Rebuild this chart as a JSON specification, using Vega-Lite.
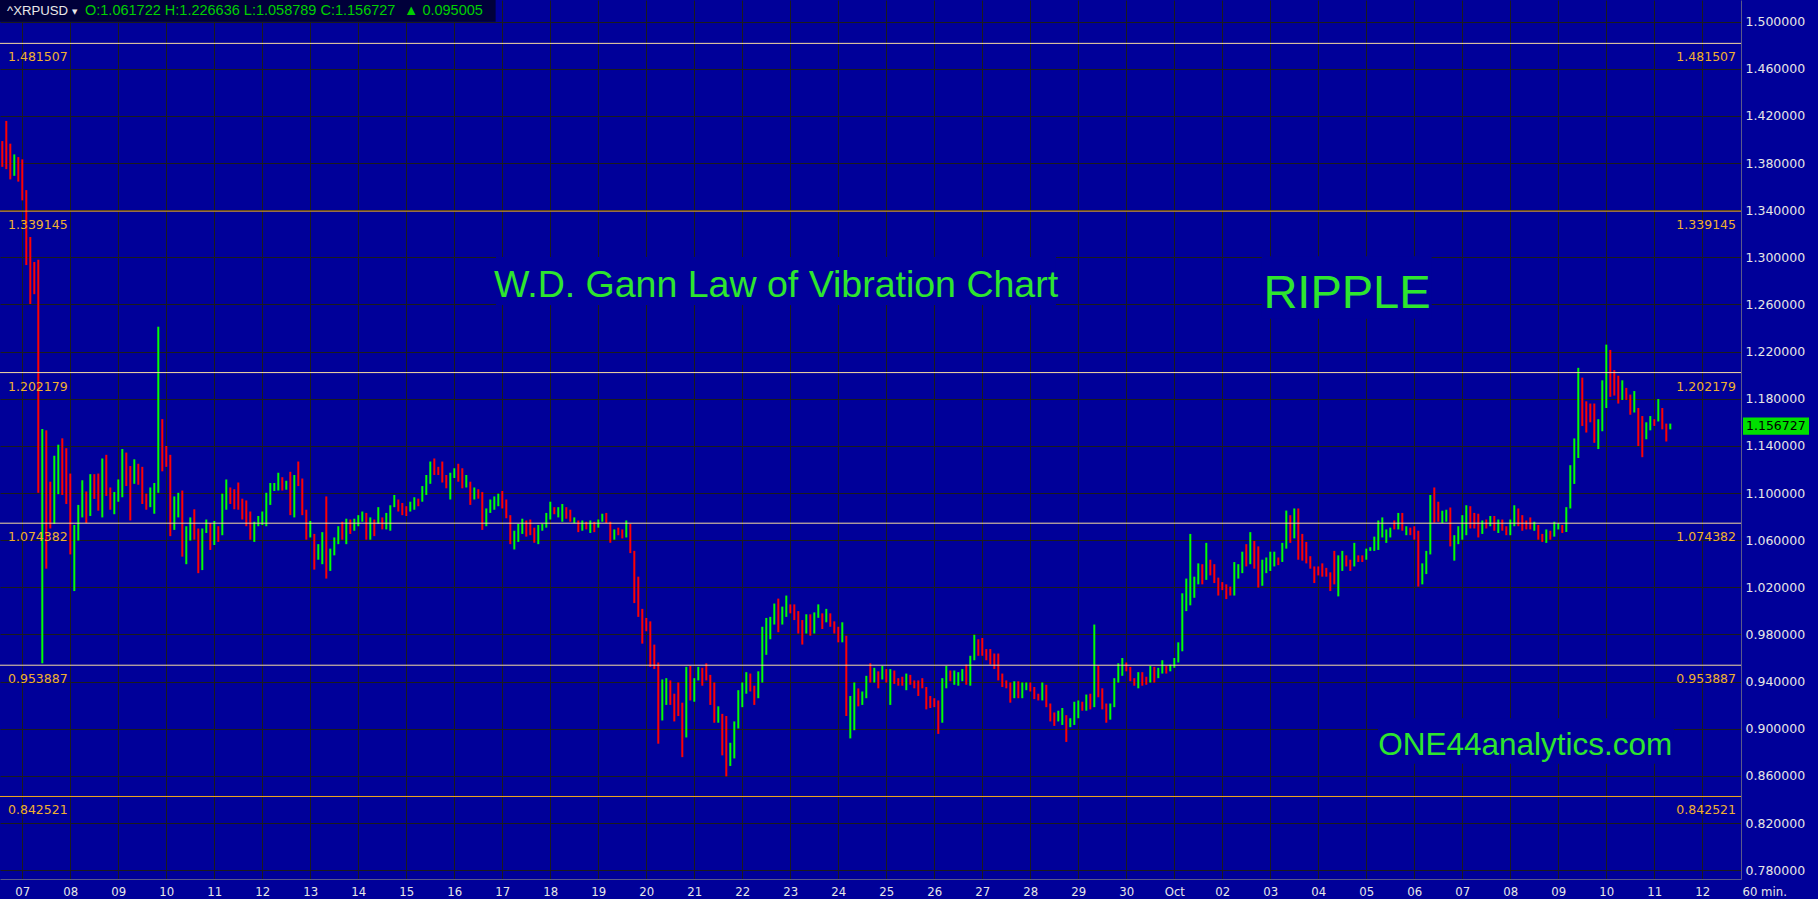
{
"$schema":"https://vega.github.io/schema/vega-lite/v6.json",
"width":1741,"height":879,
"autosize":{"type":"none"},
"padding":{"left":0,"top":0,"right":77,"bottom":20},
"background":"#000099",
"config":{"view":{"stroke":null,"fill":"#000099"}},
"datasets":{
"levels":[{"v":1.481507},{"v":1.339145},{"v":1.202179},{"v":1.074382},{"v":0.953887},{"v":0.842521}],
"bars":[
{"t":"2021-09-06T14:00Z","o":1.397,"h":1.3986,"l":1.3767,"c":1.393},
{"t":"2021-09-06T16:00Z","o":1.389,"h":1.4157,"l":1.3748,"c":1.377},
{"t":"2021-09-06T18:00Z","o":1.395,"h":1.3964,"l":1.3661,"c":1.368},
{"t":"2021-09-06T20:00Z","o":1.369,"h":1.3873,"l":1.3691,"c":1.386},
{"t":"2021-09-06T22:00Z","o":1.384,"h":1.385,"l":1.3642,"c":1.382},
{"t":"2021-09-07T00:00Z","o":1.368,"h":1.3831,"l":1.3483,"c":1.352},
{"t":"2021-09-07T02:00Z","o":1.352,"h":1.357,"l":1.2934,"c":1.300},
{"t":"2021-09-07T04:00Z","o":1.315,"h":1.3172,"l":1.2604,"c":1.294},
{"t":"2021-09-07T06:00Z","o":1.295,"h":1.296,"l":1.2687,"c":1.292},
{"t":"2021-09-07T08:00Z","o":1.290,"h":1.2979,"l":1.1002,"c":1.105},
{"t":"2021-09-07T10:00Z","o":1.100,"h":1.1543,"l":0.9555,"c":1.152},
{"t":"2021-09-07T12:00Z","o":1.150,"h":1.1532,"l":1.0358,"c":1.100},
{"t":"2021-09-07T14:00Z","o":1.107,"h":1.1096,"l":1.0699,"c":1.103},
{"t":"2021-09-07T16:00Z","o":1.080,"h":1.1316,"l":1.0737,"c":1.125},
{"t":"2021-09-07T18:00Z","o":1.110,"h":1.141,"l":1.099,"c":1.138},
{"t":"2021-09-07T20:00Z","o":1.130,"h":1.1464,"l":1.0983,"c":1.100},
{"t":"2021-09-07T22:00Z","o":1.135,"h":1.138,"l":1.0907,"c":1.120},
{"t":"2021-09-08T00:00Z","o":1.115,"h":1.1165,"l":1.0479,"c":1.060},
{"t":"2021-09-08T02:00Z","o":1.060,"h":1.0729,"l":1.0168,"c":1.068},
{"t":"2021-09-08T04:00Z","o":1.063,"h":1.0899,"l":1.0597,"c":1.072},
{"t":"2021-09-08T06:00Z","o":1.080,"h":1.1108,"l":1.0793,"c":1.108},
{"t":"2021-09-08T08:00Z","o":1.090,"h":1.1013,"l":1.0744,"c":1.078},
{"t":"2021-09-08T10:00Z","o":1.082,"h":1.116,"l":1.0805,"c":1.113},
{"t":"2021-09-08T12:00Z","o":1.114,"h":1.116,"l":1.095,"c":1.108},
{"t":"2021-09-08T14:00Z","o":1.112,"h":1.1165,"l":1.085,"c":1.087},
{"t":"2021-09-08T16:00Z","o":1.090,"h":1.1293,"l":1.0793,"c":1.126},
{"t":"2021-09-08T18:00Z","o":1.128,"h":1.1324,"l":1.0975,"c":1.100},
{"t":"2021-09-08T20:00Z","o":1.103,"h":1.1047,"l":1.0858,"c":1.098},
{"t":"2021-09-08T22:00Z","o":1.085,"h":1.1009,"l":1.082,"c":1.100},
{"t":"2021-09-09T00:00Z","o":1.095,"h":1.1115,"l":1.0926,"c":1.110},
{"t":"2021-09-09T02:00Z","o":1.100,"h":1.1373,"l":1.0964,"c":1.135},
{"t":"2021-09-09T04:00Z","o":1.130,"h":1.1343,"l":1.1059,"c":1.108},
{"t":"2021-09-09T06:00Z","o":1.108,"h":1.1229,"l":1.0767,"c":1.080},
{"t":"2021-09-09T08:00Z","o":1.110,"h":1.1286,"l":1.1078,"c":1.125},
{"t":"2021-09-09T10:00Z","o":1.122,"h":1.1248,"l":1.107,"c":1.120},
{"t":"2021-09-09T12:00Z","o":1.120,"h":1.1222,"l":1.0907,"c":1.093},
{"t":"2021-09-09T14:00Z","o":1.098,"h":1.0994,"l":1.0858,"c":1.087},
{"t":"2021-09-09T16:00Z","o":1.090,"h":1.1047,"l":1.088,"c":1.092},
{"t":"2021-09-09T18:00Z","o":1.100,"h":1.1085,"l":1.0824,"c":1.105},
{"t":"2021-09-09T20:00Z","o":1.102,"h":1.2411,"l":1.1002,"c":1.159},
{"t":"2021-09-09T22:00Z","o":1.160,"h":1.1627,"l":1.1184,"c":1.125},
{"t":"2021-09-10T00:00Z","o":1.128,"h":1.1399,"l":1.1222,"c":1.124},
{"t":"2021-09-10T02:00Z","o":1.130,"h":1.1324,"l":1.0634,"c":1.070},
{"t":"2021-09-10T04:00Z","o":1.070,"h":1.0971,"l":1.0687,"c":1.082},
{"t":"2021-09-10T06:00Z","o":1.080,"h":1.1002,"l":1.0793,"c":1.085},
{"t":"2021-09-10T08:00Z","o":1.098,"h":1.1021,"l":1.046,"c":1.050},
{"t":"2021-09-10T10:00Z","o":1.045,"h":1.0718,"l":1.0396,"c":1.062},
{"t":"2021-09-10T12:00Z","o":1.065,"h":1.0793,"l":1.0597,"c":1.077},
{"t":"2021-09-10T14:00Z","o":1.078,"h":1.0862,"l":1.0604,"c":1.063},
{"t":"2021-09-10T16:00Z","o":1.068,"h":1.0699,"l":1.032,"c":1.035},
{"t":"2021-09-10T18:00Z","o":1.038,"h":1.0699,"l":1.0346,"c":1.068},
{"t":"2021-09-10T20:00Z","o":1.067,"h":1.0775,"l":1.0661,"c":1.070},
{"t":"2021-09-10T22:00Z","o":1.073,"h":1.0744,"l":1.0517,"c":1.070},
{"t":"2021-09-11T00:00Z","o":1.058,"h":1.0763,"l":1.0559,"c":1.074},
{"t":"2021-09-11T02:00Z","o":1.071,"h":1.0718,"l":1.0585,"c":1.069},
{"t":"2021-09-11T04:00Z","o":1.066,"h":1.0994,"l":1.0642,"c":1.097},
{"t":"2021-09-11T06:00Z","o":1.090,"h":1.1115,"l":1.0858,"c":1.108},
{"t":"2021-09-11T08:00Z","o":1.103,"h":1.1047,"l":1.0907,"c":1.098},
{"t":"2021-09-11T10:00Z","o":1.100,"h":1.1032,"l":1.0862,"c":1.088},
{"t":"2021-09-11T12:00Z","o":1.105,"h":1.1089,"l":1.0858,"c":1.088},
{"t":"2021-09-11T14:00Z","o":1.094,"h":1.0952,"l":1.0775,"c":1.090},
{"t":"2021-09-11T16:00Z","o":1.090,"h":1.0937,"l":1.0718,"c":1.075},
{"t":"2021-09-11T18:00Z","o":1.075,"h":1.0843,"l":1.0604,"c":1.065},
{"t":"2021-09-11T20:00Z","o":1.062,"h":1.0756,"l":1.0585,"c":1.073},
{"t":"2021-09-11T22:00Z","o":1.073,"h":1.0805,"l":1.0718,"c":1.079},
{"t":"2021-09-12T00:00Z","o":1.076,"h":1.0843,"l":1.0729,"c":1.080},
{"t":"2021-09-12T02:00Z","o":1.075,"h":1.1002,"l":1.0718,"c":1.098},
{"t":"2021-09-12T04:00Z","o":1.095,"h":1.1085,"l":1.0899,"c":1.107},
{"t":"2021-09-12T06:00Z","o":1.103,"h":1.1085,"l":1.1017,"c":1.106},
{"t":"2021-09-12T08:00Z","o":1.103,"h":1.1172,"l":1.1021,"c":1.105},
{"t":"2021-09-12T10:00Z","o":1.108,"h":1.1134,"l":1.1021,"c":1.104},
{"t":"2021-09-12T12:00Z","o":1.104,"h":1.1104,"l":1.1028,"c":1.109},
{"t":"2021-09-12T14:00Z","o":1.108,"h":1.118,"l":1.0812,"c":1.085},
{"t":"2021-09-12T16:00Z","o":1.082,"h":1.1153,"l":1.0793,"c":1.112},
{"t":"2021-09-12T18:00Z","o":1.118,"h":1.1267,"l":1.1059,"c":1.108},
{"t":"2021-09-12T20:00Z","o":1.110,"h":1.1123,"l":1.0812,"c":1.085},
{"t":"2021-09-12T22:00Z","o":1.085,"h":1.0858,"l":1.0604,"c":1.065},
{"t":"2021-09-13T00:00Z","o":1.065,"h":1.0763,"l":1.0623,"c":1.074},
{"t":"2021-09-13T02:00Z","o":1.064,"h":1.0653,"l":1.035,"c":1.040},
{"t":"2021-09-13T04:00Z","o":1.042,"h":1.0566,"l":1.0434,"c":1.055},
{"t":"2021-09-13T06:00Z","o":1.040,"h":1.0668,"l":1.0396,"c":1.060},
{"t":"2021-09-13T08:00Z","o":1.060,"h":1.0971,"l":1.0274,"c":1.035},
{"t":"2021-09-13T10:00Z","o":1.036,"h":1.0528,"l":1.0339,"c":1.050},
{"t":"2021-09-13T12:00Z","o":1.050,"h":1.0623,"l":1.0471,"c":1.060},
{"t":"2021-09-13T14:00Z","o":1.058,"h":1.0718,"l":1.0566,"c":1.070},
{"t":"2021-09-13T16:00Z","o":1.073,"h":1.0756,"l":1.0604,"c":1.062},
{"t":"2021-09-13T18:00Z","o":1.060,"h":1.0782,"l":1.0566,"c":1.075},
{"t":"2021-09-13T20:00Z","o":1.075,"h":1.0775,"l":1.0653,"c":1.068},
{"t":"2021-09-13T22:00Z","o":1.069,"h":1.0782,"l":1.068,"c":1.072},
{"t":"2021-09-14T00:00Z","o":1.073,"h":1.0812,"l":1.0718,"c":1.080},
{"t":"2021-09-14T02:00Z","o":1.078,"h":1.0843,"l":1.0756,"c":1.082},
{"t":"2021-09-14T04:00Z","o":1.082,"h":1.0831,"l":1.0604,"c":1.070},
{"t":"2021-09-14T06:00Z","o":1.065,"h":1.0793,"l":1.0604,"c":1.077},
{"t":"2021-09-14T08:00Z","o":1.076,"h":1.0775,"l":1.0634,"c":1.072},
{"t":"2021-09-14T10:00Z","o":1.074,"h":1.088,"l":1.0737,"c":1.082},
{"t":"2021-09-14T12:00Z","o":1.078,"h":1.0793,"l":1.0691,"c":1.071},
{"t":"2021-09-14T14:00Z","o":1.070,"h":1.0831,"l":1.0691,"c":1.082},
{"t":"2021-09-14T16:00Z","o":1.080,"h":1.0896,"l":1.068,"c":1.087},
{"t":"2021-09-14T18:00Z","o":1.088,"h":1.0983,"l":1.088,"c":1.094},
{"t":"2021-09-14T20:00Z","o":1.093,"h":1.0945,"l":1.0843,"c":1.090},
{"t":"2021-09-14T22:00Z","o":1.090,"h":1.0915,"l":1.0812,"c":1.083},
{"t":"2021-09-15T00:00Z","o":1.087,"h":1.0888,"l":1.0805,"c":1.086},
{"t":"2021-09-15T02:00Z","o":1.086,"h":1.0926,"l":1.0843,"c":1.089},
{"t":"2021-09-15T04:00Z","o":1.088,"h":1.0964,"l":1.0858,"c":1.095},
{"t":"2021-09-15T06:00Z","o":1.094,"h":1.0952,"l":1.0888,"c":1.090},
{"t":"2021-09-15T08:00Z","o":1.093,"h":1.1059,"l":1.0926,"c":1.104},
{"t":"2021-09-15T10:00Z","o":1.102,"h":1.1153,"l":1.0983,"c":1.110},
{"t":"2021-09-15T12:00Z","o":1.110,"h":1.1267,"l":1.1078,"c":1.124},
{"t":"2021-09-15T14:00Z","o":1.122,"h":1.1293,"l":1.1153,"c":1.118},
{"t":"2021-09-15T16:00Z","o":1.119,"h":1.1222,"l":1.1153,"c":1.117},
{"t":"2021-09-15T18:00Z","o":1.118,"h":1.1267,"l":1.1089,"c":1.110},
{"t":"2021-09-15T20:00Z","o":1.110,"h":1.1153,"l":1.104,"c":1.106},
{"t":"2021-09-15T22:00Z","o":1.105,"h":1.1172,"l":1.0945,"c":1.112},
{"t":"2021-09-16T00:00Z","o":1.113,"h":1.121,"l":1.1127,"c":1.119},
{"t":"2021-09-16T02:00Z","o":1.120,"h":1.1248,"l":1.1096,"c":1.112},
{"t":"2021-09-16T04:00Z","o":1.118,"h":1.121,"l":1.104,"c":1.106},
{"t":"2021-09-16T06:00Z","o":1.106,"h":1.1153,"l":1.1047,"c":1.113},
{"t":"2021-09-16T08:00Z","o":1.108,"h":1.1096,"l":1.0899,"c":1.093},
{"t":"2021-09-16T10:00Z","o":1.095,"h":1.1047,"l":1.0945,"c":1.102},
{"t":"2021-09-16T12:00Z","o":1.100,"h":1.1032,"l":1.0952,"c":1.098},
{"t":"2021-09-16T14:00Z","o":1.099,"h":1.1009,"l":1.0687,"c":1.075},
{"t":"2021-09-16T16:00Z","o":1.075,"h":1.0869,"l":1.0718,"c":1.085},
{"t":"2021-09-16T18:00Z","o":1.085,"h":1.0945,"l":1.0831,"c":1.092},
{"t":"2021-09-16T20:00Z","o":1.089,"h":1.0971,"l":1.0858,"c":1.092},
{"t":"2021-09-16T22:00Z","o":1.091,"h":1.0994,"l":1.0888,"c":1.097},
{"t":"2021-09-17T00:00Z","o":1.098,"h":1.1017,"l":1.0869,"c":1.089},
{"t":"2021-09-17T02:00Z","o":1.092,"h":1.0945,"l":1.0786,"c":1.080},
{"t":"2021-09-17T04:00Z","o":1.080,"h":1.0812,"l":1.0566,"c":1.060},
{"t":"2021-09-17T06:00Z","o":1.062,"h":1.068,"l":1.0521,"c":1.066},
{"t":"2021-09-17T08:00Z","o":1.065,"h":1.0737,"l":1.0585,"c":1.071},
{"t":"2021-09-17T10:00Z","o":1.070,"h":1.0782,"l":1.0653,"c":1.076},
{"t":"2021-09-17T12:00Z","o":1.075,"h":1.0767,"l":1.063,"c":1.072},
{"t":"2021-09-17T14:00Z","o":1.074,"h":1.0775,"l":1.0642,"c":1.066},
{"t":"2021-09-17T16:00Z","o":1.067,"h":1.0706,"l":1.0578,"c":1.060},
{"t":"2021-09-17T18:00Z","o":1.060,"h":1.0729,"l":1.0566,"c":1.070},
{"t":"2021-09-17T20:00Z","o":1.069,"h":1.0737,"l":1.068,"c":1.072},
{"t":"2021-09-17T22:00Z","o":1.072,"h":1.0831,"l":1.0706,"c":1.081},
{"t":"2021-09-18T00:00Z","o":1.080,"h":1.0926,"l":1.0775,"c":1.086},
{"t":"2021-09-18T02:00Z","o":1.087,"h":1.088,"l":1.082,"c":1.086},
{"t":"2021-09-18T04:00Z","o":1.083,"h":1.088,"l":1.0793,"c":1.086},
{"t":"2021-09-18T06:00Z","o":1.080,"h":1.0907,"l":1.0756,"c":1.088},
{"t":"2021-09-18T08:00Z","o":1.087,"h":1.088,"l":1.0782,"c":1.084},
{"t":"2021-09-18T10:00Z","o":1.085,"h":1.0858,"l":1.0756,"c":1.077},
{"t":"2021-09-18T12:00Z","o":1.075,"h":1.0793,"l":1.0744,"c":1.078},
{"t":"2021-09-18T14:00Z","o":1.076,"h":1.0767,"l":1.0668,"c":1.069},
{"t":"2021-09-18T16:00Z","o":1.069,"h":1.0767,"l":1.068,"c":1.076},
{"t":"2021-09-18T18:00Z","o":1.074,"h":1.0756,"l":1.0691,"c":1.073},
{"t":"2021-09-18T20:00Z","o":1.070,"h":1.0767,"l":1.0661,"c":1.073},
{"t":"2021-09-18T22:00Z","o":1.074,"h":1.0756,"l":1.0668,"c":1.070},
{"t":"2021-09-19T00:00Z","o":1.071,"h":1.0775,"l":1.0706,"c":1.076},
{"t":"2021-09-19T02:00Z","o":1.077,"h":1.0824,"l":1.0756,"c":1.080},
{"t":"2021-09-19T04:00Z","o":1.081,"h":1.0831,"l":1.0744,"c":1.077},
{"t":"2021-09-19T06:00Z","o":1.075,"h":1.0756,"l":1.0578,"c":1.063},
{"t":"2021-09-19T08:00Z","o":1.062,"h":1.0691,"l":1.0604,"c":1.067},
{"t":"2021-09-19T10:00Z","o":1.068,"h":1.0706,"l":1.0642,"c":1.066},
{"t":"2021-09-19T12:00Z","o":1.066,"h":1.0691,"l":1.0615,"c":1.065},
{"t":"2021-09-19T14:00Z","o":1.066,"h":1.0767,"l":1.0623,"c":1.074},
{"t":"2021-09-19T16:00Z","o":1.072,"h":1.0737,"l":1.049,"c":1.052},
{"t":"2021-09-19T18:00Z","o":1.050,"h":1.0509,"l":1.0066,"c":1.010},
{"t":"2021-09-19T20:00Z","o":1.010,"h":1.029,"l":0.9949,"c":0.996},
{"t":"2021-09-19T22:00Z","o":0.998,"h":1.0017,"l":0.9722,"c":0.992},
{"t":"2021-09-20T00:00Z","o":0.992,"h":0.994,"l":0.9827,"c":0.988},
{"t":"2021-09-20T02:00Z","o":0.990,"h":0.9911,"l":0.9525,"c":0.972},
{"t":"2021-09-20T04:00Z","o":0.971,"h":0.9714,"l":0.9506,"c":0.955},
{"t":"2021-09-20T06:00Z","o":0.955,"h":0.9562,"l":0.8873,"c":0.905},
{"t":"2021-09-20T08:00Z","o":0.910,"h":0.9418,"l":0.907,"c":0.927},
{"t":"2021-09-20T10:00Z","o":0.924,"h":0.9429,"l":0.9202,"c":0.940},
{"t":"2021-09-20T12:00Z","o":0.938,"h":0.941,"l":0.9202,"c":0.925},
{"t":"2021-09-20T14:00Z","o":0.926,"h":0.9297,"l":0.9062,"c":0.915},
{"t":"2021-09-20T16:00Z","o":0.920,"h":0.9392,"l":0.9108,"c":0.915},
{"t":"2021-09-20T18:00Z","o":0.921,"h":0.9221,"l":0.8759,"c":0.890},
{"t":"2021-09-20T20:00Z","o":0.897,"h":0.9525,"l":0.8926,"c":0.948},
{"t":"2021-09-20T22:00Z","o":0.945,"h":0.9532,"l":0.924,"c":0.928},
{"t":"2021-09-21T00:00Z","o":0.930,"h":0.9429,"l":0.9229,"c":0.940},
{"t":"2021-09-21T02:00Z","o":0.942,"h":0.9525,"l":0.941,"c":0.948},
{"t":"2021-09-21T04:00Z","o":0.950,"h":0.9517,"l":0.9365,"c":0.945},
{"t":"2021-09-21T06:00Z","o":0.952,"h":0.9555,"l":0.941,"c":0.943},
{"t":"2021-09-21T08:00Z","o":0.944,"h":0.9457,"l":0.9202,"c":0.922},
{"t":"2021-09-21T10:00Z","o":0.935,"h":0.9392,"l":0.9051,"c":0.908},
{"t":"2021-09-21T12:00Z","o":0.907,"h":0.919,"l":0.9051,"c":0.918},
{"t":"2021-09-21T14:00Z","o":0.912,"h":0.9126,"l":0.8774,"c":0.882},
{"t":"2021-09-21T16:00Z","o":0.882,"h":0.9108,"l":0.8596,"c":0.870},
{"t":"2021-09-21T18:00Z","o":0.870,"h":0.8881,"l":0.8684,"c":0.886},
{"t":"2021-09-21T20:00Z","o":0.877,"h":0.9062,"l":0.8748,"c":0.905},
{"t":"2021-09-21T22:00Z","o":0.903,"h":0.9327,"l":0.9002,"c":0.918},
{"t":"2021-09-22T00:00Z","o":0.920,"h":0.9392,"l":0.9183,"c":0.937},
{"t":"2021-09-22T02:00Z","o":0.932,"h":0.948,"l":0.9297,"c":0.937},
{"t":"2021-09-22T04:00Z","o":0.940,"h":0.9468,"l":0.9316,"c":0.934},
{"t":"2021-09-22T06:00Z","o":0.935,"h":0.9365,"l":0.9202,"c":0.930},
{"t":"2021-09-22T08:00Z","o":0.928,"h":0.9487,"l":0.9259,"c":0.947},
{"t":"2021-09-22T10:00Z","o":0.942,"h":0.9865,"l":0.9392,"c":0.983},
{"t":"2021-09-22T12:00Z","o":0.982,"h":0.994,"l":0.9627,"c":0.990},
{"t":"2021-09-22T14:00Z","o":0.978,"h":0.9949,"l":0.9759,"c":0.992},
{"t":"2021-09-22T16:00Z","o":0.990,"h":1.0062,"l":0.9884,"c":1.004},
{"t":"2021-09-22T18:00Z","o":1.004,"h":1.0104,"l":0.9819,"c":0.988},
{"t":"2021-09-22T20:00Z","o":0.990,"h":1.0036,"l":0.9884,"c":1.000},
{"t":"2021-09-22T22:00Z","o":0.998,"h":1.013,"l":0.9949,"c":1.000},
{"t":"2021-09-23T00:00Z","o":1.003,"h":1.0055,"l":0.9979,"c":1.000},
{"t":"2021-09-23T02:00Z","o":1.004,"h":1.0055,"l":0.9922,"c":0.994},
{"t":"2021-09-23T04:00Z","o":0.994,"h":0.9998,"l":0.9808,"c":0.983},
{"t":"2021-09-23T06:00Z","o":0.985,"h":0.9922,"l":0.9714,"c":0.982},
{"t":"2021-09-23T08:00Z","o":0.982,"h":0.9971,"l":0.9808,"c":0.995},
{"t":"2021-09-23T10:00Z","o":0.995,"h":0.9971,"l":0.9789,"c":0.982},
{"t":"2021-09-23T12:00Z","o":0.982,"h":0.9987,"l":0.9808,"c":0.993},
{"t":"2021-09-23T14:00Z","o":0.994,"h":1.0055,"l":0.9941,"c":0.997},
{"t":"2021-09-23T16:00Z","o":0.996,"h":0.9979,"l":0.9846,"c":0.993},
{"t":"2021-09-23T18:00Z","o":0.992,"h":1.0017,"l":0.9903,"c":0.998},
{"t":"2021-09-23T20:00Z","o":0.996,"h":0.9979,"l":0.9865,"c":0.988},
{"t":"2021-09-23T22:00Z","o":0.990,"h":0.9911,"l":0.9808,"c":0.982},
{"t":"2021-09-24T00:00Z","o":0.985,"h":0.9865,"l":0.9733,"c":0.975},
{"t":"2021-09-24T02:00Z","o":0.975,"h":0.9903,"l":0.9733,"c":0.987},
{"t":"2021-09-24T04:00Z","o":0.976,"h":0.9789,"l":0.9108,"c":0.915},
{"t":"2021-09-24T06:00Z","o":0.895,"h":0.9278,"l":0.8918,"c":0.908},
{"t":"2021-09-24T08:00Z","o":0.905,"h":0.9392,"l":0.8987,"c":0.936},
{"t":"2021-09-24T10:00Z","o":0.932,"h":0.9342,"l":0.919,"c":0.924},
{"t":"2021-09-24T12:00Z","o":0.922,"h":0.9316,"l":0.9202,"c":0.930},
{"t":"2021-09-24T14:00Z","o":0.928,"h":0.9449,"l":0.9259,"c":0.942},
{"t":"2021-09-24T16:00Z","o":0.943,"h":0.9555,"l":0.9392,"c":0.940},
{"t":"2021-09-24T18:00Z","o":0.942,"h":0.9517,"l":0.9392,"c":0.948},
{"t":"2021-09-24T20:00Z","o":0.947,"h":0.9487,"l":0.9343,"c":0.938},
{"t":"2021-09-24T22:00Z","o":0.942,"h":0.9532,"l":0.9418,"c":0.952},
{"t":"2021-09-25T00:00Z","o":0.950,"h":0.9506,"l":0.9392,"c":0.949},
{"t":"2021-09-25T02:00Z","o":0.946,"h":0.9506,"l":0.9202,"c":0.950},
{"t":"2021-09-25T04:00Z","o":0.948,"h":0.9494,"l":0.938,"c":0.940},
{"t":"2021-09-25T06:00Z","o":0.942,"h":0.9429,"l":0.9365,"c":0.937},
{"t":"2021-09-25T08:00Z","o":0.940,"h":0.9441,"l":0.9365,"c":0.937},
{"t":"2021-09-25T10:00Z","o":0.934,"h":0.9468,"l":0.9327,"c":0.945},
{"t":"2021-09-25T12:00Z","o":0.944,"h":0.9457,"l":0.9373,"c":0.938},
{"t":"2021-09-25T14:00Z","o":0.940,"h":0.941,"l":0.9343,"c":0.935},
{"t":"2021-09-25T16:00Z","o":0.938,"h":0.941,"l":0.9278,"c":0.936},
{"t":"2021-09-25T18:00Z","o":0.940,"h":0.9429,"l":0.9343,"c":0.936},
{"t":"2021-09-25T20:00Z","o":0.934,"h":0.9354,"l":0.9164,"c":0.920},
{"t":"2021-09-25T22:00Z","o":0.924,"h":0.9278,"l":0.9176,"c":0.920},
{"t":"2021-09-26T00:00Z","o":0.925,"h":0.9259,"l":0.9183,"c":0.920},
{"t":"2021-09-26T02:00Z","o":0.922,"h":0.924,"l":0.8956,"c":0.905},
{"t":"2021-09-26T04:00Z","o":0.907,"h":0.9429,"l":0.9051,"c":0.931},
{"t":"2021-09-26T06:00Z","o":0.936,"h":0.9532,"l":0.9343,"c":0.952},
{"t":"2021-09-26T08:00Z","o":0.948,"h":0.9494,"l":0.9403,"c":0.944},
{"t":"2021-09-26T10:00Z","o":0.940,"h":0.9494,"l":0.9373,"c":0.943},
{"t":"2021-09-26T12:00Z","o":0.938,"h":0.948,"l":0.9365,"c":0.942},
{"t":"2021-09-26T14:00Z","o":0.942,"h":0.9506,"l":0.9403,"c":0.949},
{"t":"2021-09-26T16:00Z","o":0.948,"h":0.9544,"l":0.9373,"c":0.940},
{"t":"2021-09-26T18:00Z","o":0.940,"h":0.9619,"l":0.9365,"c":0.958},
{"t":"2021-09-26T20:00Z","o":0.958,"h":0.9797,"l":0.9581,"c":0.970},
{"t":"2021-09-26T22:00Z","o":0.972,"h":0.9759,"l":0.9619,"c":0.963},
{"t":"2021-09-27T00:00Z","o":0.966,"h":0.977,"l":0.9619,"c":0.964},
{"t":"2021-09-27T02:00Z","o":0.966,"h":0.9676,"l":0.9581,"c":0.962},
{"t":"2021-09-27T04:00Z","o":0.966,"h":0.9676,"l":0.9544,"c":0.962},
{"t":"2021-09-27T06:00Z","o":0.962,"h":0.9638,"l":0.9506,"c":0.953},
{"t":"2021-09-27T08:00Z","o":0.958,"h":0.9638,"l":0.941,"c":0.943},
{"t":"2021-09-27T10:00Z","o":0.942,"h":0.9468,"l":0.9354,"c":0.937},
{"t":"2021-09-27T12:00Z","o":0.940,"h":0.941,"l":0.9343,"c":0.935},
{"t":"2021-09-27T14:00Z","o":0.938,"h":0.9392,"l":0.9221,"c":0.924},
{"t":"2021-09-27T16:00Z","o":0.927,"h":0.9403,"l":0.9259,"c":0.934},
{"t":"2021-09-27T18:00Z","o":0.938,"h":0.9403,"l":0.9259,"c":0.929},
{"t":"2021-09-27T20:00Z","o":0.928,"h":0.9392,"l":0.9259,"c":0.935},
{"t":"2021-09-27T22:00Z","o":0.933,"h":0.9392,"l":0.9327,"c":0.938},
{"t":"2021-09-28T00:00Z","o":0.938,"h":0.9392,"l":0.9316,"c":0.935},
{"t":"2021-09-28T02:00Z","o":0.934,"h":0.9354,"l":0.9251,"c":0.927},
{"t":"2021-09-28T04:00Z","o":0.928,"h":0.9297,"l":0.924,"c":0.926},
{"t":"2021-09-28T06:00Z","o":0.926,"h":0.9392,"l":0.924,"c":0.936},
{"t":"2021-09-28T08:00Z","o":0.935,"h":0.9373,"l":0.9183,"c":0.921},
{"t":"2021-09-28T10:00Z","o":0.920,"h":0.9214,"l":0.9062,"c":0.908},
{"t":"2021-09-28T12:00Z","o":0.913,"h":0.9138,"l":0.9024,"c":0.912},
{"t":"2021-09-28T14:00Z","o":0.910,"h":0.9153,"l":0.9062,"c":0.914},
{"t":"2021-09-28T16:00Z","o":0.913,"h":0.9176,"l":0.9032,"c":0.916},
{"t":"2021-09-28T18:00Z","o":0.911,"h":0.9115,"l":0.8888,"c":0.909},
{"t":"2021-09-28T20:00Z","o":0.903,"h":0.9089,"l":0.9013,"c":0.908},
{"t":"2021-09-28T22:00Z","o":0.905,"h":0.9229,"l":0.9032,"c":0.921},
{"t":"2021-09-29T00:00Z","o":0.912,"h":0.924,"l":0.9089,"c":0.922},
{"t":"2021-09-29T02:00Z","o":0.922,"h":0.9229,"l":0.9153,"c":0.916},
{"t":"2021-09-29T04:00Z","o":0.918,"h":0.929,"l":0.9153,"c":0.927},
{"t":"2021-09-29T06:00Z","o":0.926,"h":0.9297,"l":0.9164,"c":0.918},
{"t":"2021-09-29T08:00Z","o":0.920,"h":0.9884,"l":0.9183,"c":0.927},
{"t":"2021-09-29T10:00Z","o":0.950,"h":0.9532,"l":0.9267,"c":0.928},
{"t":"2021-09-29T12:00Z","o":0.932,"h":0.9343,"l":0.9164,"c":0.918},
{"t":"2021-09-29T14:00Z","o":0.920,"h":0.9214,"l":0.9051,"c":0.907},
{"t":"2021-09-29T16:00Z","o":0.909,"h":0.9214,"l":0.9077,"c":0.920},
{"t":"2021-09-29T18:00Z","o":0.920,"h":0.9429,"l":0.9183,"c":0.940},
{"t":"2021-09-29T20:00Z","o":0.940,"h":0.9555,"l":0.9392,"c":0.954},
{"t":"2021-09-29T22:00Z","o":0.9456,"h":0.96,"l":0.9449,"c":0.950},
{"t":"2021-09-30T00:00Z","o":0.955,"h":0.9562,"l":0.9487,"c":0.950},
{"t":"2021-09-30T02:00Z","o":0.951,"h":0.9525,"l":0.9403,"c":0.948},
{"t":"2021-09-30T04:00Z","o":0.942,"h":0.9429,"l":0.9365,"c":0.937},
{"t":"2021-09-30T06:00Z","o":0.936,"h":0.948,"l":0.9343,"c":0.946},
{"t":"2021-09-30T08:00Z","o":0.946,"h":0.948,"l":0.9365,"c":0.938},
{"t":"2021-09-30T10:00Z","o":0.940,"h":0.9441,"l":0.9373,"c":0.939},
{"t":"2021-09-30T12:00Z","o":0.940,"h":0.9532,"l":0.9392,"c":0.951},
{"t":"2021-09-30T14:00Z","o":0.951,"h":0.9525,"l":0.9392,"c":0.941},
{"t":"2021-09-30T16:00Z","o":0.943,"h":0.9517,"l":0.9429,"c":0.950},
{"t":"2021-09-30T18:00Z","o":0.948,"h":0.9581,"l":0.9468,"c":0.951},
{"t":"2021-09-30T20:00Z","o":0.952,"h":0.9532,"l":0.9468,"c":0.951},
{"t":"2021-09-30T22:00Z","o":0.949,"h":0.9544,"l":0.9487,"c":0.954},
{"t":"2021-10-01T00:00Z","o":0.952,"h":0.96,"l":0.9517,"c":0.959},
{"t":"2021-10-01T02:00Z","o":0.958,"h":0.9733,"l":0.9562,"c":0.972},
{"t":"2021-10-01T04:00Z","o":0.970,"h":1.0149,"l":0.9657,"c":1.012},
{"t":"2021-10-01T06:00Z","o":1.000,"h":1.0274,"l":0.9998,"c":1.005},
{"t":"2021-10-01T08:00Z","o":1.005,"h":1.0653,"l":1.0047,"c":1.007},
{"t":"2021-10-01T10:00Z","o":1.013,"h":1.029,"l":1.0111,"c":1.027},
{"t":"2021-10-01T12:00Z","o":1.030,"h":1.0403,"l":1.0225,"c":1.033},
{"t":"2021-10-01T14:00Z","o":1.030,"h":1.0396,"l":1.0225,"c":1.025},
{"t":"2021-10-01T16:00Z","o":1.028,"h":1.0577,"l":1.0263,"c":1.030},
{"t":"2021-10-01T18:00Z","o":1.036,"h":1.0434,"l":1.0301,"c":1.031},
{"t":"2021-10-01T20:00Z","o":1.038,"h":1.0396,"l":1.0236,"c":1.025},
{"t":"2021-10-01T22:00Z","o":1.027,"h":1.0282,"l":1.013,"c":1.024},
{"t":"2021-10-02T00:00Z","o":1.023,"h":1.0244,"l":1.0176,"c":1.021},
{"t":"2021-10-02T02:00Z","o":1.022,"h":1.0225,"l":1.010,"c":1.012},
{"t":"2021-10-02T04:00Z","o":1.020,"h":1.0206,"l":1.013,"c":1.014},
{"t":"2021-10-02T06:00Z","o":1.015,"h":1.0414,"l":1.013,"c":1.039},
{"t":"2021-10-02T08:00Z","o":1.030,"h":1.0396,"l":1.0274,"c":1.038},
{"t":"2021-10-02T10:00Z","o":1.034,"h":1.0502,"l":1.032,"c":1.048},
{"t":"2021-10-02T12:00Z","o":1.052,"h":1.0566,"l":1.0377,"c":1.040},
{"t":"2021-10-02T14:00Z","o":1.040,"h":1.0668,"l":1.0396,"c":1.045},
{"t":"2021-10-02T16:00Z","o":1.050,"h":1.0593,"l":1.0358,"c":1.038},
{"t":"2021-10-02T18:00Z","o":1.050,"h":1.0547,"l":1.0198,"c":1.025},
{"t":"2021-10-02T20:00Z","o":1.023,"h":1.0434,"l":1.0213,"c":1.040},
{"t":"2021-10-02T22:00Z","o":1.034,"h":1.0453,"l":1.032,"c":1.044},
{"t":"2021-10-03T00:00Z","o":1.036,"h":1.0502,"l":1.0339,"c":1.040},
{"t":"2021-10-03T02:00Z","o":1.039,"h":1.0502,"l":1.0377,"c":1.048},
{"t":"2021-10-03T04:00Z","o":1.044,"h":1.0453,"l":1.0388,"c":1.040},
{"t":"2021-10-03T06:00Z","o":1.042,"h":1.0577,"l":1.0415,"c":1.055},
{"t":"2021-10-03T08:00Z","o":1.053,"h":1.0851,"l":1.0528,"c":1.070},
{"t":"2021-10-03T10:00Z","o":1.078,"h":1.0812,"l":1.0577,"c":1.060},
{"t":"2021-10-03T12:00Z","o":1.063,"h":1.0869,"l":1.0615,"c":1.083},
{"t":"2021-10-03T14:00Z","o":1.085,"h":1.0869,"l":1.0434,"c":1.047},
{"t":"2021-10-03T16:00Z","o":1.060,"h":1.0653,"l":1.0426,"c":1.055},
{"t":"2021-10-03T18:00Z","o":1.050,"h":1.0585,"l":1.0403,"c":1.042},
{"t":"2021-10-03T20:00Z","o":1.045,"h":1.0464,"l":1.0358,"c":1.037},
{"t":"2021-10-03T22:00Z","o":1.037,"h":1.0377,"l":1.0236,"c":1.036},
{"t":"2021-10-04T00:00Z","o":1.034,"h":1.0377,"l":1.0301,"c":1.032},
{"t":"2021-10-04T02:00Z","o":1.035,"h":1.0403,"l":1.029,"c":1.031},
{"t":"2021-10-04T04:00Z","o":1.035,"h":1.0365,"l":1.029,"c":1.030},
{"t":"2021-10-04T06:00Z","o":1.031,"h":1.0327,"l":1.0168,"c":1.028},
{"t":"2021-10-04T08:00Z","o":1.030,"h":1.0509,"l":1.0225,"c":1.025},
{"t":"2021-10-04T10:00Z","o":1.015,"h":1.0471,"l":1.0123,"c":1.045},
{"t":"2021-10-04T12:00Z","o":1.036,"h":1.0509,"l":1.0339,"c":1.042},
{"t":"2021-10-04T14:00Z","o":1.045,"h":1.0471,"l":1.0377,"c":1.043},
{"t":"2021-10-04T16:00Z","o":1.042,"h":1.0434,"l":1.0339,"c":1.040},
{"t":"2021-10-04T18:00Z","o":1.040,"h":1.0577,"l":1.0377,"c":1.042},
{"t":"2021-10-04T20:00Z","o":1.044,"h":1.0471,"l":1.0415,"c":1.043},
{"t":"2021-10-04T22:00Z","o":1.045,"h":1.0471,"l":1.0415,"c":1.043},
{"t":"2021-10-05T00:00Z","o":1.045,"h":1.0528,"l":1.0434,"c":1.052},
{"t":"2021-10-05T02:00Z","o":1.051,"h":1.054,"l":1.0509,"c":1.053},
{"t":"2021-10-05T04:00Z","o":1.052,"h":1.063,"l":1.0509,"c":1.056},
{"t":"2021-10-05T06:00Z","o":1.055,"h":1.0767,"l":1.0517,"c":1.073},
{"t":"2021-10-05T08:00Z","o":1.063,"h":1.0793,"l":1.0623,"c":1.069},
{"t":"2021-10-05T10:00Z","o":1.060,"h":1.0691,"l":1.0577,"c":1.068},
{"t":"2021-10-05T12:00Z","o":1.064,"h":1.0706,"l":1.0623,"c":1.070},
{"t":"2021-10-05T14:00Z","o":1.075,"h":1.0767,"l":1.0691,"c":1.071},
{"t":"2021-10-05T16:00Z","o":1.072,"h":1.0831,"l":1.0691,"c":1.082},
{"t":"2021-10-05T18:00Z","o":1.075,"h":1.0831,"l":1.068,"c":1.072},
{"t":"2021-10-05T20:00Z","o":1.066,"h":1.0718,"l":1.0642,"c":1.069},
{"t":"2021-10-05T22:00Z","o":1.070,"h":1.0706,"l":1.0642,"c":1.066},
{"t":"2021-10-06T00:00Z","o":1.071,"h":1.0718,"l":1.0604,"c":1.062},
{"t":"2021-10-06T02:00Z","o":1.066,"h":1.068,"l":1.0206,"c":1.028},
{"t":"2021-10-06T04:00Z","o":1.028,"h":1.0403,"l":1.0225,"c":1.038},
{"t":"2021-10-06T06:00Z","o":1.034,"h":1.0509,"l":1.0312,"c":1.048},
{"t":"2021-10-06T08:00Z","o":1.050,"h":1.0983,"l":1.0479,"c":1.095},
{"t":"2021-10-06T10:00Z","o":1.100,"h":1.1047,"l":1.0748,"c":1.077},
{"t":"2021-10-06T12:00Z","o":1.090,"h":1.0926,"l":1.0756,"c":1.078},
{"t":"2021-10-06T14:00Z","o":1.077,"h":1.085,"l":1.0744,"c":1.082},
{"t":"2021-10-06T16:00Z","o":1.079,"h":1.0858,"l":1.0756,"c":1.084},
{"t":"2021-10-06T18:00Z","o":1.083,"h":1.0877,"l":1.0547,"c":1.058},
{"t":"2021-10-06T20:00Z","o":1.062,"h":1.0642,"l":1.0426,"c":1.063},
{"t":"2021-10-06T22:00Z","o":1.058,"h":1.0718,"l":1.0566,"c":1.070},
{"t":"2021-10-07T00:00Z","o":1.062,"h":1.0812,"l":1.0604,"c":1.066},
{"t":"2021-10-07T02:00Z","o":1.066,"h":1.0896,"l":1.0642,"c":1.087},
{"t":"2021-10-07T04:00Z","o":1.087,"h":1.0888,"l":1.0699,"c":1.082},
{"t":"2021-10-07T06:00Z","o":1.082,"h":1.0831,"l":1.0699,"c":1.071},
{"t":"2021-10-07T08:00Z","o":1.080,"h":1.0824,"l":1.0623,"c":1.065},
{"t":"2021-10-07T10:00Z","o":1.066,"h":1.0767,"l":1.0653,"c":1.076},
{"t":"2021-10-07T12:00Z","o":1.076,"h":1.0775,"l":1.0699,"c":1.075},
{"t":"2021-10-07T14:00Z","o":1.073,"h":1.0805,"l":1.0718,"c":1.079},
{"t":"2021-10-07T16:00Z","o":1.076,"h":1.0805,"l":1.068,"c":1.070},
{"t":"2021-10-07T18:00Z","o":1.072,"h":1.0775,"l":1.0661,"c":1.076},
{"t":"2021-10-07T20:00Z","o":1.075,"h":1.0775,"l":1.068,"c":1.070},
{"t":"2021-10-07T22:00Z","o":1.070,"h":1.0718,"l":1.0642,"c":1.069},
{"t":"2021-10-08T00:00Z","o":1.068,"h":1.0775,"l":1.0642,"c":1.075},
{"t":"2021-10-08T02:00Z","o":1.074,"h":1.0896,"l":1.0718,"c":1.087},
{"t":"2021-10-08T04:00Z","o":1.085,"h":1.0869,"l":1.0718,"c":1.074},
{"t":"2021-10-08T06:00Z","o":1.079,"h":1.0812,"l":1.068,"c":1.070},
{"t":"2021-10-08T08:00Z","o":1.075,"h":1.0767,"l":1.0691,"c":1.074},
{"t":"2021-10-08T10:00Z","o":1.078,"h":1.0793,"l":1.0691,"c":1.070},
{"t":"2021-10-08T12:00Z","o":1.069,"h":1.0756,"l":1.068,"c":1.074},
{"t":"2021-10-08T14:00Z","o":1.071,"h":1.0729,"l":1.0604,"c":1.063},
{"t":"2021-10-08T16:00Z","o":1.064,"h":1.0653,"l":1.0585,"c":1.060},
{"t":"2021-10-08T18:00Z","o":1.060,"h":1.0691,"l":1.0577,"c":1.068},
{"t":"2021-10-08T20:00Z","o":1.066,"h":1.068,"l":1.0604,"c":1.062},
{"t":"2021-10-08T22:00Z","o":1.064,"h":1.0756,"l":1.063,"c":1.074},
{"t":"2021-10-09T00:00Z","o":1.072,"h":1.0744,"l":1.0691,"c":1.074},
{"t":"2021-10-09T02:00Z","o":1.072,"h":1.0729,"l":1.0661,"c":1.068},
{"t":"2021-10-09T04:00Z","o":1.067,"h":1.088,"l":1.0669,"c":1.086},
{"t":"2021-10-09T06:00Z","o":1.088,"h":1.1236,"l":1.0869,"c":1.120},
{"t":"2021-10-09T08:00Z","o":1.110,"h":1.1463,"l":1.1077,"c":1.143},
{"t":"2021-10-09T10:00Z","o":1.132,"h":1.2062,"l":1.1297,"c":1.200},
{"t":"2021-10-09T12:00Z","o":1.192,"h":1.1979,"l":1.1569,"c":1.165},
{"t":"2021-10-09T14:00Z","o":1.177,"h":1.1778,"l":1.1513,"c":1.174},
{"t":"2021-10-09T16:00Z","o":1.172,"h":1.1759,"l":1.16,"c":1.163},
{"t":"2021-10-09T18:00Z","o":1.172,"h":1.1759,"l":1.1426,"c":1.145},
{"t":"2021-10-09T20:00Z","o":1.140,"h":1.1626,"l":1.1373,"c":1.160},
{"t":"2021-10-09T22:00Z","o":1.155,"h":1.1956,"l":1.1524,"c":1.192},
{"t":"2021-10-10T00:00Z","o":1.190,"h":1.2259,"l":1.1721,"c":1.220},
{"t":"2021-10-10T02:00Z","o":1.218,"h":1.2214,"l":1.1816,"c":1.198},
{"t":"2021-10-10T04:00Z","o":1.203,"h":1.2043,"l":1.1827,"c":1.199},
{"t":"2021-10-10T06:00Z","o":1.190,"h":1.1995,"l":1.1759,"c":1.178},
{"t":"2021-10-10T08:00Z","o":1.182,"h":1.1956,"l":1.179,"c":1.193},
{"t":"2021-10-10T10:00Z","o":1.188,"h":1.1892,"l":1.179,"c":1.180},
{"t":"2021-10-10T12:00Z","o":1.182,"h":1.1835,"l":1.1664,"c":1.172},
{"t":"2021-10-10T14:00Z","o":1.170,"h":1.1865,"l":1.1683,"c":1.184},
{"t":"2021-10-10T16:00Z","o":1.170,"h":1.1721,"l":1.1399,"c":1.161},
{"t":"2021-10-10T18:00Z","o":1.163,"h":1.1653,"l":1.1304,"c":1.152},
{"t":"2021-10-10T20:00Z","o":1.150,"h":1.16,"l":1.1456,"c":1.156},
{"t":"2021-10-10T22:00Z","o":1.155,"h":1.1653,"l":1.1532,"c":1.161},
{"t":"2021-10-11T00:00Z","o":1.162,"h":1.1626,"l":1.1569,"c":1.160},
{"t":"2021-10-11T02:00Z","o":1.162,"h":1.1797,"l":1.1607,"c":1.168},
{"t":"2021-10-11T04:00Z","o":1.170,"h":1.1721,"l":1.154,"c":1.157},
{"t":"2021-10-11T06:00Z","o":1.158,"h":1.1589,"l":1.1437,"c":1.1555},
{"t":"2021-10-11T08:00Z","o":1.1545,"h":1.1589,"l":1.154,"c":1.156727}
]},
"layer":[
{"data":{"name":"bars"},"mark":{"type":"rule","strokeWidth":2},
 "encoding":{
  "x":{"field":"t","type":"temporal","scale":{"type":"utc","nice":false,"domain":[{"year":2021,"month":9,"date":6,"hours":12,"minutes":51,"utc":true},{"year":2021,"month":10,"date":12,"hours":19,"minutes":21,"utc":true}]},
   "axis":{"orient":"bottom","tickCount":{"interval":"day","step":1},"labelExpr":"utcFormat(datum.value, '%d') == '01' ? utcFormat(datum.value, '%b') : utcFormat(datum.value, '%d')","labelFont":"Liberation Sans Narrow, DejaVu Sans Condensed, Liberation Sans","labelFontSize":13,"labelColor":"#e6e6e6","labelPadding":12,"labelBaseline":"middle","labelFlush":false,"labelOverlap":false,"ticks":false,"grid":true,"gridColor":"#1c1c1c","gridWidth":1,"domain":true,"domainColor":"#5a5a8a","title":"60 min.","titleX":1742,"titleY":12,"titleAlign":"left","titleBaseline":"middle","titleFont":"Liberation Sans Narrow, DejaVu Sans Condensed, Liberation Sans","titleFontSize":13,"titleFontWeight":"normal","titleColor":"#e6e6e6"}},
  "y":{"field":"l","type":"quantitative","scale":{"domain":[0.7725,1.5183],"nice":false,"zero":false},
   "axis":{"orient":"right","values":[0.78,0.8,0.82,0.84,0.86,0.88,0.9,0.92,0.94,0.96,0.98,1.0,1.02,1.04,1.06,1.08,1.1,1.12,1.14,1.16,1.18,1.2,1.22,1.24,1.26,1.28,1.3,1.32,1.34,1.36,1.38,1.4,1.42,1.44,1.46,1.48,1.5],"format":".6f","labelFont":"DejaVu Sans","labelFontSize":12.5,"labelColor":"#e6e6e6","labelPadding":4,"labelOverlap":false,"labelFlush":false,"ticks":false,"grid":true,"gridColor":"#1c1c1c","gridWidth":1,"domain":true,"domainColor":"#5a5a8a","title":null}},
  "y2":{"field":"h"},
  "color":{"condition":{"test":"datum.c >= datum.o","value":"#00ff00"},"value":"#ff0000"}}},
{"data":{"values":[{}]},"mark":{"type":"rect","color":"#000099"},
 "encoding":{"x":{"datum":{"year":2021,"month":9,"date":16,"hours":20,"minutes":51,"utc":true},"type":"temporal"},
  "x2":{"datum":{"year":2021,"month":9,"date":28,"hours":12,"minutes":50,"utc":true}},
  "y":{"datum":1.3002,"type":"quantitative"},
  "y2":{"datum":1.2595}}},
{"data":{"values":[{}]},"mark":{"type":"rect","color":"#000099"},
 "encoding":{"x":{"datum":{"year":2021,"month":10,"date":2,"hours":19,"minutes":42,"utc":true},"type":"temporal"},
  "x2":{"datum":{"year":2021,"month":10,"date":6,"hours":8,"minutes":42,"utc":true}},
  "y":{"datum":1.3009,"type":"quantitative"},
  "y2":{"datum":1.2478}}},
{"data":{"values":[{}]},"mark":{"type":"rect","color":"#000099"},
 "encoding":{"x":{"datum":{"year":2021,"month":10,"date":5,"hours":5,"minutes":51,"utc":true},"type":"temporal"},
  "x2":{"datum":{"year":2021,"month":10,"date":11,"hours":9,"minutes":50,"utc":true}},
  "y":{"datum":0.9088,"type":"quantitative"},
  "y2":{"datum":0.8702}}},
{"data":{"name":"levels"},"mark":{"type":"rule","strokeWidth":1},
 "encoding":{"y":{"field":"v","type":"quantitative"},
  "color":{"condition":{"test":"datum.v == 1.339145 || datum.v == 0.842521","value":"#f0a820"},"value":"#f8dca0"}}},
{"data":{"name":"levels"},"mark":{"type":"text","align":"left","baseline":"middle","dx":8,"dy":14,"font":"DejaVu Sans","fontSize":12.5,"color":"#f0b030"},
 "encoding":{"x":{"datum":{"year":2021,"month":9,"date":6,"hours":12,"minutes":51,"utc":true},"type":"temporal"},
  "y":{"field":"v","type":"quantitative"},
  "text":{"field":"v","type":"quantitative","format":".6f"}}},
{"data":{"name":"levels"},"mark":{"type":"text","align":"right","baseline":"middle","dx":-5,"dy":14,"font":"DejaVu Sans","fontSize":12.5,"color":"#f0b030"},
 "encoding":{"x":{"datum":{"year":2021,"month":10,"date":12,"hours":19,"minutes":21,"utc":true},"type":"temporal"},
  "y":{"field":"v","type":"quantitative"},
  "text":{"field":"v","type":"quantitative","format":".6f"}}},
{"data":{"values":[{}]},"mark":{"type":"rect","color":"#00003a"},
 "encoding":{"x":{"datum":{"year":2021,"month":9,"date":6,"hours":12,"minutes":51,"utc":true},"type":"temporal"},
  "x2":{"datum":{"year":2021,"month":9,"date":16,"hours":20,"minutes":40,"utc":true}},
  "y":{"datum":1.5183,"type":"quantitative"},
  "y2":{"datum":1.4999}}},
{"data":{"values":[{"label":"^XRPUSD"}]},"mark":{"type":"text","align":"left","baseline":"middle","dx":7,"font":"Liberation Sans","fontSize":13.2,"color":"#e8e8e8"},
 "encoding":{"x":{"datum":{"year":2021,"month":9,"date":6,"hours":12,"minutes":51,"utc":true},"type":"temporal"},
  "y":{"datum":1.509,"type":"quantitative"},"text":{"field":"label"}}},
{"data":{"values":[{"label":"▼"}]},"mark":{"type":"text","align":"left","baseline":"middle","dx":72,"dy":1,"font":"DejaVu Sans","fontSize":7,"color":"#e8e8e8"},
 "encoding":{"x":{"datum":{"year":2021,"month":9,"date":6,"hours":12,"minutes":51,"utc":true},"type":"temporal"},
  "y":{"datum":1.509,"type":"quantitative"},"text":{"field":"label"}}},
{"data":{"values":[{"label":"O:1.061722 H:1.226636 L:1.058789 C:1.156727"}]},"mark":{"type":"text","align":"left","baseline":"middle","dx":85,"font":"Liberation Sans","fontSize":14.5,"color":"#00d000"},
 "encoding":{"x":{"datum":{"year":2021,"month":9,"date":6,"hours":12,"minutes":51,"utc":true},"type":"temporal"},
  "y":{"datum":1.509,"type":"quantitative"},"text":{"field":"label"}}},
{"data":{"values":[{"label":"▲ 0.095005"}]},"mark":{"type":"text","align":"left","baseline":"middle","dx":404,"font":"Liberation Sans","fontSize":14.5,"color":"#00d000"},
 "encoding":{"x":{"datum":{"year":2021,"month":9,"date":6,"hours":12,"minutes":51,"utc":true},"type":"temporal"},
  "y":{"datum":1.509,"type":"quantitative"},"text":{"field":"label"}}},
{"data":{"values":[{"label":"W.D. Gann Law of Vibration Chart"}]},"mark":{"type":"text","align":"center","baseline":"alphabetic","font":"Liberation Sans","fontSize":37.5,"color":"#2ee62e"},
 "encoding":{"x":{"datum":{"year":2021,"month":9,"date":22,"hours":16,"minutes":51,"utc":true},"type":"temporal"},
  "y":{"datum":1.266,"type":"quantitative"},"text":{"field":"label"}}},
{"data":{"values":[{"label":"RIPPLE"}]},"mark":{"type":"text","align":"center","baseline":"alphabetic","font":"Liberation Sans","fontSize":47,"color":"#2ee62e"},
 "encoding":{"x":{"datum":{"year":2021,"month":10,"date":4,"hours":14,"minutes":21,"utc":true},"type":"temporal"},
  "y":{"datum":1.2573,"type":"quantitative"},"text":{"field":"label"}}},
{"data":{"values":[{"label":"ONE44analytics.com"}]},"mark":{"type":"text","align":"center","baseline":"alphabetic","font":"Liberation Sans","fontSize":31.5,"color":"#2ee62e"},
 "encoding":{"x":{"datum":{"year":2021,"month":10,"date":8,"hours":7,"minutes":27,"utc":true},"type":"temporal"},
  "y":{"datum":0.8777,"type":"quantitative"},"text":{"field":"label"}}},
{"data":{"values":[{}]},"mark":{"type":"rect","color":"#00e000"},
 "encoding":{"x":{"datum":{"year":2021,"month":10,"date":12,"hours":20,"minutes":21,"utc":true},"type":"temporal"},
  "x2":{"datum":{"year":2021,"month":10,"date":14,"hours":5,"minutes":21,"utc":true}},
  "y":{"datum":1.1640,"type":"quantitative"},
  "y2":{"datum":1.1495}}},
{"data":{"values":[{"label":"1.156727"}]},"mark":{"type":"text","align":"left","baseline":"middle","dx":5,"font":"DejaVu Sans","fontSize":12.5,"color":"#000000"},
 "encoding":{"x":{"datum":{"year":2021,"month":10,"date":12,"hours":19,"minutes":21,"utc":true},"type":"temporal"},
  "y":{"datum":1.156727,"type":"quantitative"},"text":{"field":"label"}}}
]
}
